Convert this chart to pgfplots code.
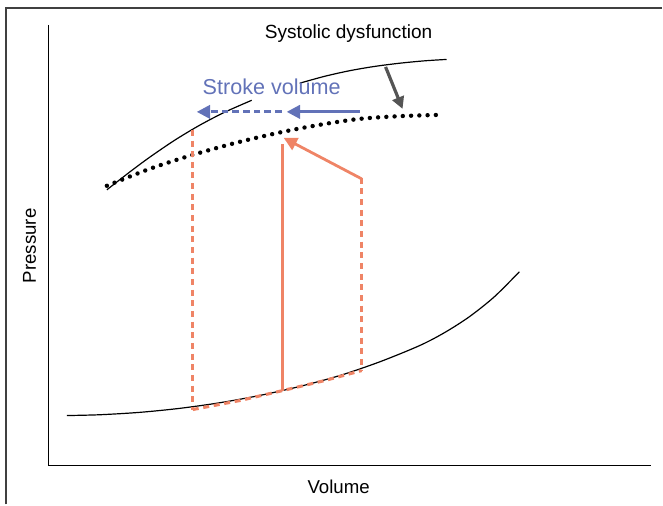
\documentclass[border=0pt]{standalone}
\usepackage{pgfplots}
\pgfplotsset{compat=1.18}
\usetikzlibrary{arrows.meta}
\usepackage{fontspec}
\setmainfont{Liberation Sans}

\definecolor{salmon}{HTML}{EF8466}
\definecolor{svblue}{HTML}{6272B8}
\definecolor{arrgray}{HTML}{555555}

\begin{document}
\begin{tikzpicture}
\begin{axis}[
    width=497.25pt, height=378.75pt,
    scale only axis,
    xmin=0, xmax=663, ymin=0, ymax=505,
    y dir=reverse,
    hide axis,
    clip=false,
]
% bounding area
\addplot[draw=none] coordinates {(0,0) (663,505)};

% outer frame
\addplot[color=black!75, line width=1.1pt] coordinates {(6,505) (6,8) (663,8)};

% axis lines
\addplot[black, line width=0.8pt] coordinates {(49,25) (49,466) (652,466)};

% normal end-systolic curve (two pieces, broken by the label)
\addplot[black, line width=0.9pt, smooth] coordinates {
    (107,190) (130,172.1) (150,157.3) (175,140.3) (200,125.3) (225,112.3) (252,100.4)};
\addplot[black, line width=0.9pt, smooth] coordinates {
    (300,83.3) (325,76.4) (350,70.8) (375,66.5) (400,63.3) (425,60.9) (447,59.5)};

% depressed end-systolic curve (dotted)
\addplot[black, line width=3.3pt, line cap=round, dash pattern=on 0pt off 6.2pt, smooth] coordinates {
    (107,186) (150,169) (193,155) (238,142.5) (283,132) (321,124.8) (360,119) (400,116.3) (440,115)};

% end-diastolic curve
\addplot[black, line width=0.9pt, smooth] coordinates {
    (67,416) (100,415.2) (140,412.8) (180,408.8) (220,403.2) (260,395.9) (300,386.9)
    (340,376) (380,362.3) (420,346) (445,333) (470,317) (495,297) (520,272)};

% pressure-volume loops
\addplot[salmon, line width=2.3pt, dash pattern=on 4.5pt off 3.5pt] coordinates {(193,130) (193,410)};
\addplot[salmon, line width=2.3pt, dash pattern=on 4.5pt off 3.5pt] coordinates {(362,178) (362,371)};
\addplot[salmon, line width=2.3pt, dash pattern=on 4.5pt off 3.5pt] coordinates {(193,410) (240,401) (283,391) (325,381) (362,371)};
\addplot[salmon, line width=2.1pt] coordinates {(283,391) (283,144)};
\addplot[salmon, line width=2.1pt, -{Triangle[length=10pt,width=10pt]}] coordinates {(362,179) (284,138)};

% stroke volume arrows
\addplot[svblue, line width=2.2pt, -{Triangle[length=10pt,width=10pt]}] coordinates {(360,112) (287,112)};
\addplot[svblue, line width=2.2pt, dash pattern=on 5pt off 3pt, -{Triangle[length=10pt,width=10pt]}] coordinates {(282,112) (197,112)};

% shift arrow
\addplot[arrgray, line width=2.4pt, -{Triangle[length=9pt,width=9pt]}] coordinates {(386,67) (403,109)};

% texts
\node[anchor=base, font=\fontsize{14.3pt}{16pt}\selectfont] at (axis cs:349,39) {Systolic dysfunction};
\node[anchor=base, text=svblue, font=\fontsize{16.2pt}{18pt}\selectfont] at (axis cs:272,95) {Stroke volume};
\node[anchor=base, font=\fontsize{14pt}{16pt}\selectfont] at (axis cs:339,494) {Volume};
\node[anchor=base, rotate=90, font=\fontsize{14pt}{16pt}\selectfont] at (axis cs:36,246) {Pressure};
\end{axis}
\end{tikzpicture}
\end{document}
